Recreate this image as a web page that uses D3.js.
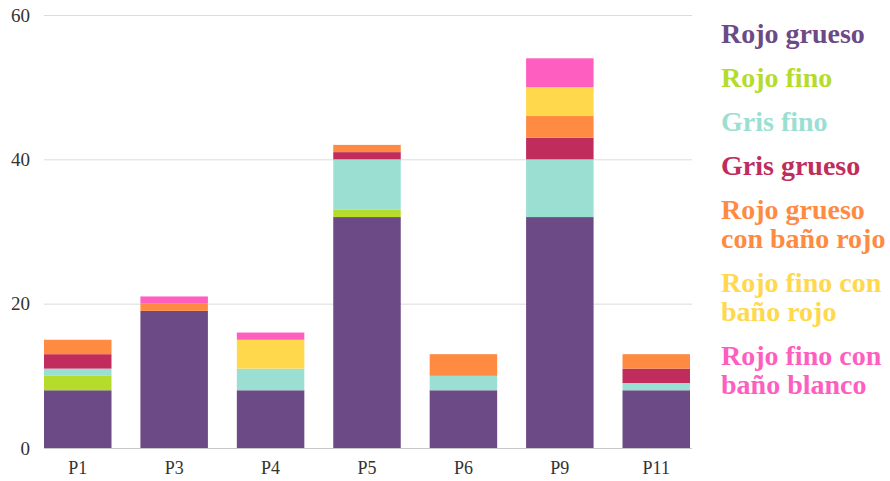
<!DOCTYPE html>
<html>
<head>
<meta charset="utf-8">
<script src="https://cdn.jsdelivr.net/npm/d3@7"></script>
<style>
html,body{margin:0;padding:0;background:#fff;}
svg{display:block;}
</style>
</head>
<body>
<svg id="chart" width="890" height="481"></svg>
<script>
const categories = ["P1","P3","P4","P5","P6","P9","P11"];
const seriesNames = ["Rojo grueso","Rojo fino","Gris fino","Gris grueso","Rojo grueso con baño rojo","Rojo fino con baño rojo","Rojo fino con baño blanco"];
const legendLines = [["Rojo grueso"],["Rojo fino"],["Gris fino"],["Gris grueso"],["Rojo grueso","con baño rojo"],["Rojo fino con","baño rojo"],["Rojo fino con","baño blanco"]];
const rojoGrueso      = [8, 19, 8, 32, 8, 32, 8];
const rojoFino        = [2, 0, 0, 1, 0, 0, 0];
const grisFino        = [1, 0, 3, 7, 2, 8, 1];
const grisGrueso      = [2, 0, 0, 1, 0, 3, 2];
const rojoGruesoBanoR = [2, 1, 0, 1, 3, 3, 2];
const rojoFinoBanoR   = [0, 0, 4, 0, 0, 4, 0];
const rojoFinoBanoB   = [0, 1, 1, 0, 0, 4, 0];
const yTicks = [0, 20, 40, 60];
const colors = ["#6c4a86","#b5dc2c","#9bdfd2","#c02d5c","#ff8a42","#ffd84c","#ff5ec1"];

const FONT = "Liberation Serif, Times New Roman, serif";
const seriesValues = [rojoGrueso, rojoFino, grisFino, grisGrueso, rojoGruesoBanoR, rojoFinoBanoR, rojoFinoBanoB];
const table = categories.map((c, i) => {
  const row = {cat: c};
  seriesNames.forEach((s, j) => row[s] = seriesValues[j][i]);
  return row;
});

const svg = d3.select("#chart");
const x = d3.scaleBand().domain(categories).range([44, 690]).paddingInner(0.3).paddingOuter(0);
const y = d3.scaleLinear().domain([0, 60]).range([448, 15]);

svg.append("g").selectAll("line").data(yTicks).join("line")
  .attr("x1", 44).attr("x2", 692)
  .attr("y1", d => y(d) + 0.5).attr("y2", d => y(d) + 0.5)
  .attr("stroke", d => d === 0 ? "#c8c8c8" : "#dcdcdc").attr("stroke-width", 1);

svg.append("g").selectAll("text").data(yTicks).join("text")
  .attr("x", 30).attr("y", d => y(d)).attr("dy", "0.35em")
  .attr("text-anchor", "end")
  .attr("font-family", FONT)
  .attr("font-size", 19).attr("fill", "#333")
  .text(d => d);

const stacked = d3.stack().keys(seriesNames)(table);

svg.append("g").selectAll("g").data(stacked).join("g")
  .attr("fill", (d, i) => colors[i])
  .selectAll("rect").data(d => d).join("rect")
  .attr("x", d => x(d.data.cat))
  .attr("width", x.bandwidth())
  .attr("y", d => y(d[1]))
  .attr("height", d => y(d[0]) - y(d[1]));

const xg = svg.append("g").attr("transform", "translate(0,448)")
  .call(d3.axisBottom(x).tickSize(0).tickPadding(13));
xg.select(".domain").remove();
xg.attr("font-family", FONT).attr("font-size", 18);
xg.selectAll("text").attr("fill", "#333");

const leg = svg.append("g");
let yy = 33;
legendLines.forEach((lines, i) => {
  const t = leg.append("text")
    .attr("x", 721)
    .attr("font-family", FONT)
    .attr("font-weight", "bold")
    .attr("font-size", 28)
    .attr("fill", colors[i]);
  lines.forEach((ln, k) => {
    t.append("tspan").attr("x", 721).attr("y", yy + k * 29).attr("dy", "0.35em").text(ln);
  });
  yy += 44 + (lines.length - 1) * 29;
});
</script>
</body>
</html>
